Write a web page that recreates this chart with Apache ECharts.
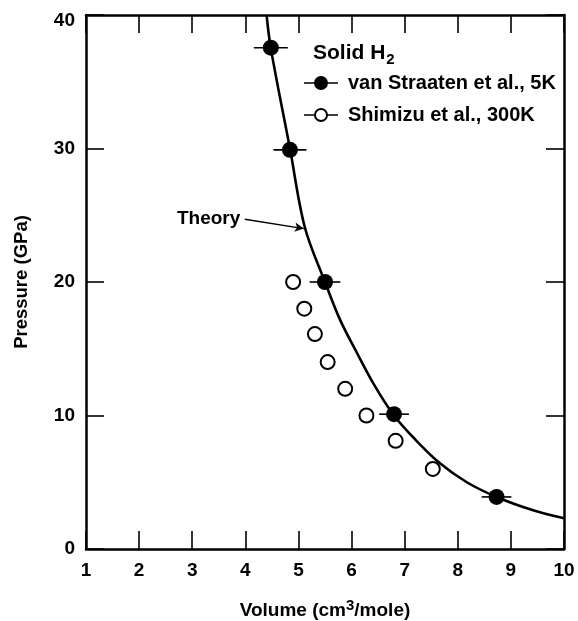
<!DOCTYPE html>
<html>
<head>
<meta charset="utf-8">
<script src="https://cdn.jsdelivr.net/npm/echarts@6/dist/echarts.min.js"></script>
<style>html,body{margin:0;padding:0;background:#fff}#c{width:578px;height:621px}</style>
</head>
<body>
<div id="c"></div>
<script>
// van Straaten et al., 5K (filled circles with horizontal error bars)
const volumeVS = [4.48, 4.84, 5.50, 6.80, 8.73];
const pressureVS = [37.55, 29.9, 20.0, 10.1, 3.9];
const xErrVS = [0.32, 0.31, 0.29, 0.28, 0.28];
// Shimizu et al., 300K (open circles)
const volumeSh = [4.90, 5.11, 5.31, 5.55, 5.88, 6.28, 6.83, 7.53];
const pressureSh = [20.0, 18.0, 16.1, 14.0, 12.0, 10.0, 8.1, 6.0];
// Theory curve
const theoryV = [4.40, 4.48, 4.84, 5.12, 5.50, 5.78, 6.10, 6.41, 6.78, 7.20, 7.67, 8.17, 8.73, 9.42, 10.0];
const theoryP = [40.0, 37.5, 30.0, 24.1, 20.0, 17.2, 14.7, 12.4, 10.1, 8.2, 6.4, 5.0, 3.9, 2.9, 2.3];
// annotation
const theoryLabelPos = [3.99, 24.7];
const theoryArrowTip = [5.10, 24.0];
// ticks
const xTicks = [1, 2, 3, 4, 5, 6, 7, 8, 9, 10];
const yTicks = [0, 10, 20, 30, 40];

const FONT = '"Liberation Sans", Arial, Helvetica, sans-serif';
const chart = echarts.init(document.getElementById('c'), null, {renderer: 'canvas'});

const vsData = volumeVS.map((v, i) => [v, pressureVS[i]]);
const vsErr = volumeVS.map((v, i) => [v, pressureVS[i], xErrVS[i]]);
const shData = volumeSh.map((v, i) => [v, pressureSh[i]]);
const theoryData = theoryV.map((v, i) => [v, theoryP[i]]);

const filledIcon = 'path://M0,7.25 H34 V8.75 H0 Z M10,8 A7,7 0 1,1 24,8 A7,7 0 1,1 10,8 Z';
const openIcon = 'path://M0,7.25 H10.2 V8.75 H0 Z M23.8,7.25 H34 V8.75 H23.8 Z M10,8 A7,7 0 1,1 24,8 A7,7 0 1,1 10,8 Z M12,8 A5,5 0 1,0 22,8 A5,5 0 1,0 12,8 Z';

const axisCommon = {
  type: 'value',
  splitLine: {show: false},
  axisLine: {show: true, onZero: false, lineStyle: {color: '#000', width: 2.5}},
  axisTick: {show: true, inside: true, length: 18, lineStyle: {color: '#000', width: 1.6}},
};

const option = {
  animation: false,
  backgroundColor: '#fff',
  grid: {left: 86, right: 14, top: 15, bottom: 72, containLabel: false, outerBoundsMode: 'none'},
  title: {
    text: 'Solid H{sub|2}',
    left: 313, top: 40, padding: 0,
    textStyle: {
      fontFamily: FONT, fontWeight: 'bold', fontSize: 21, color: '#000',
      rich: {sub: {fontFamily: FONT, fontWeight: 'bold', fontSize: 15, color: '#000', padding: [12, 0, 0, 1]}}
    }
  },
  legend: {
    orient: 'vertical',
    left: 304, top: 73, padding: 0,
    itemWidth: 34, itemHeight: 14, itemGap: 12,
    textStyle: {fontFamily: FONT, fontWeight: 'bold', fontSize: 20, color: '#000', padding: [0, 0, 0, 5]},
    data: [
      {name: 'van Straaten et al., 5K', icon: filledIcon, itemStyle: {color: '#000', borderWidth: 0, opacity: 1}},
      {name: 'Shimizu et al., 300K', icon: openIcon, itemStyle: {color: '#000', borderWidth: 0, opacity: 1}}
    ]
  },
  xAxis: [
    Object.assign({}, axisCommon, {
      min: xTicks[0], max: xTicks[xTicks.length - 1], interval: 1, position: 'bottom',
      name: 'Volume (cm{sup|3}/mole)', nameLocation: 'middle', nameGap: 49,
      nameTextStyle: {fontFamily: FONT, fontWeight: 'bold', fontSize: 19, color: '#000',
        rich: {sup: {fontFamily: FONT, fontWeight: 'bold', fontSize: 15, color: '#000', padding: [0, 0, 10, 0]}}},
      axisLabel: {fontFamily: FONT, fontWeight: 'bold', fontSize: 19, color: '#000', margin: 12}
    }),
    Object.assign({}, axisCommon, {
      min: xTicks[0], max: xTicks[xTicks.length - 1], interval: 1, position: 'top',
      axisLabel: {show: false}
    })
  ],
  yAxis: [
    Object.assign({}, axisCommon, {
      min: yTicks[0], max: yTicks[yTicks.length - 1], interval: 10, position: 'left',
      name: 'Pressure (GPa)', nameLocation: 'middle', nameGap: 55, nameRotate: 90,
      nameTextStyle: {fontFamily: FONT, fontWeight: 'bold', fontSize: 18.5, color: '#000'},
      axisLabel: {fontFamily: FONT, fontWeight: 'bold', fontSize: 19, color: '#000', margin: 11,
        formatter: function (v) { return v === yTicks[yTicks.length - 1] ? '{t|' + v + '}' : String(v); },
        rich: {t: {fontFamily: FONT, fontWeight: 'bold', fontSize: 19, color: '#000', padding: [12, 0, 0, 0]}}}
    }),
    Object.assign({}, axisCommon, {
      min: yTicks[0], max: yTicks[yTicks.length - 1], interval: 10, position: 'right',
      axisLabel: {show: false}
    })
  ],
  series: [
    {
      name: 'Theory', type: 'line', data: theoryData, smooth: 0.35,
      showSymbol: false, symbol: 'none', clip: true,
      lineStyle: {color: '#000', width: 2.6},
      markLine: {
        silent: true, symbol: ['none', 'arrow'], symbolSize: [7, 9],
        lineStyle: {color: '#000', width: 1.3, type: 'solid', curveness: -0.08},
        label: {show: false},
        data: [[{coord: theoryLabelPos}, {coord: theoryArrowTip}]]
      },
      z: 2
    },
    {
      name: 'TheoryLabel', type: 'scatter', data: [theoryLabelPos], symbolSize: 1,
      itemStyle: {color: 'rgba(0,0,0,0)', opacity: 1},
      label: {show: true, position: 'left', distance: 4, formatter: 'Theory',
        fontFamily: FONT, fontWeight: 'bold', fontSize: 19, color: '#000'},
      silent: true, z: 3
    },
    {
      name: 'errbars', type: 'custom', data: vsErr,
      renderItem: function (params, api) {
        const x = api.value(0), y = api.value(1), e = api.value(2);
        const p1 = api.coord([x - e, y]);
        const p2 = api.coord([x + e, y]);
        return {type: 'line', shape: {x1: p1[0], y1: p1[1], x2: p2[0], y2: p2[1]},
          style: {stroke: '#000', lineWidth: 1.6}};
      },
      z: 3, silent: true
    },
    {
      name: 'van Straaten et al., 5K', type: 'scatter', data: vsData,
      symbol: 'circle', symbolSize: 16, itemStyle: {color: '#000', opacity: 1}, z: 4
    },
    {
      name: 'Shimizu et al., 300K', type: 'scatter', data: shData,
      symbol: 'circle', symbolSize: 14,
      itemStyle: {color: '#fff', borderColor: '#000', borderWidth: 2, opacity: 1}, z: 4
    }
  ]
};
chart.setOption(option);
</script>
</body>
</html>
